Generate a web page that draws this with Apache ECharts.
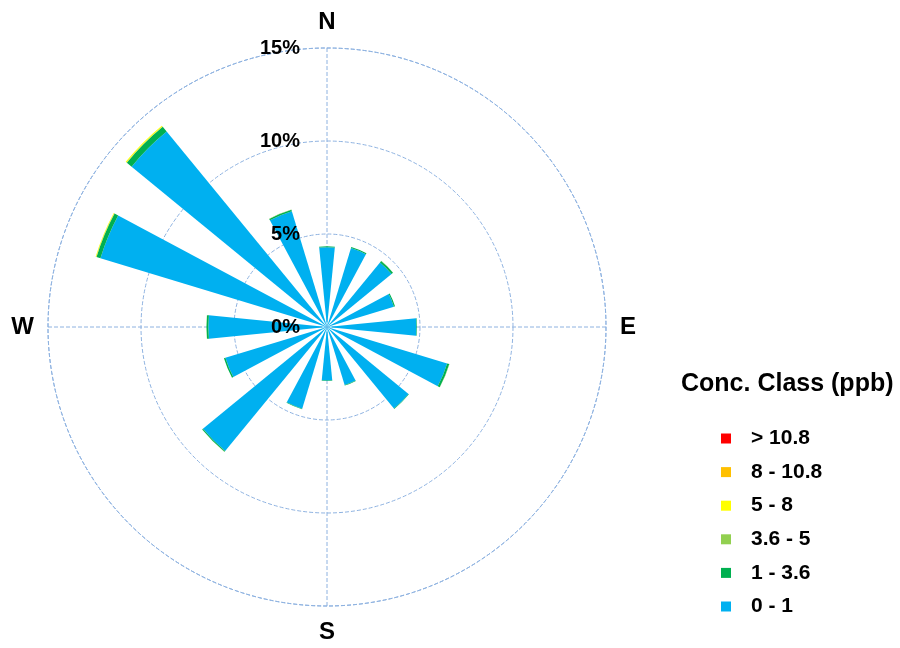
<!DOCTYPE html>
<html>
<head>
<meta charset="utf-8">
<script src="https://cdn.jsdelivr.net/npm/echarts@6/dist/echarts.min.js"></script>
<style>
  html, body { margin: 0; padding: 0; background: #fff; }
  #chart { width: 900px; height: 648px; }
</style>
</head>
<body>
<div id="chart"></div>
<script>
// Wind directions (16 sectors, clockwise from north)
const directions = ['N','NNE','NE','ENE','E','ESE','SE','SSE','S','SSW','SW','WSW','W','WNW','NW','NNW'];

// Frequency (%) per concentration class and direction
const class0to1    = [4.29, 4.44, 4.49, 3.76, 4.81, 6.75, 5.67, 3.26, 2.88, 4.59, 8.63, 5.71, 6.38, 12.73, 13.59, 6.51];
const class1to36   = [0.05, 0.06, 0.10, 0.06, 0.03, 0.12, 0.03, 0.03, 0.02, 0.03, 0.05, 0.08, 0.10, 0.22, 0.33, 0.08];
const class36to5   = [0, 0, 0.01, 0, 0, 0.01, 0, 0, 0, 0, 0.01, 0, 0.01, 0.02, 0.03, 0.01];
const class5to8    = [0, 0, 0, 0, 0, 0, 0, 0, 0, 0, 0, 0, 0, 0.03, 0.05, 0];
const class8to108  = [0, 0, 0, 0, 0, 0, 0, 0, 0, 0, 0, 0, 0, 0, 0, 0];
const classAbove108 = [0, 0, 0, 0, 0, 0, 0, 0, 0, 0, 0, 0, 0, 0, 0, 0];

// Class names (legend order: highest first)
const classNames = ['> 10.8', '8 - 10.8', '5 - 8', '3.6 - 5', '1 - 3.6', '0 - 1'];
const classColors = ['#ff0000', '#ffc000', '#ffff00', '#92d050', '#00b050', '#00b0f0'];

// Compass labels and radial ticks
const compassLabels = { 0: 'N', 90: 'E', 180: 'S', 270: 'W' };
const radiusTicks = [0, 5, 10, 15];

const chart = echarts.init(document.getElementById('chart'));

const stackData = [class0to1, class1to36, class36to5, class5to8, class8to108, classAbove108];
const stackNames = classNames.slice().reverse();
const stackColors = classColors.slice().reverse();

const gridColor = '#8eb2e0';
const center = [327, 327];
const radius = 279;
const fontFamily = 'Liberation Sans, Arial';

// Empty classes are skipped so that no zero-height sectors get drawn
const series = stackData.map((d, i) => ({
  type: 'bar',
  name: stackNames[i],
  coordinateSystem: 'polar',
  polarIndex: 0,
  stack: 'rose',
  data: d.map(v => (v > 0 ? v : '-')),
  barWidth: '50%',
  itemStyle: { color: stackColors[i] },
  z: 3
}));

const hiddenRadius = idx => ({
  polarIndex: idx, type: 'value', min: 0, max: 15,
  axisLine: { show: false }, axisTick: { show: false },
  axisLabel: { show: false }, splitLine: { show: false }
});

chart.setOption({
  animation: false,
  title: {
    text: 'Conc. Class (ppb)',
    left: 676,
    top: 367,
    textStyle: { fontFamily: fontFamily, fontWeight: 'bold', fontSize: 25, color: '#000' }
  },
  legend: {
    orient: 'vertical',
    left: 716,
    top: 423,
    data: classNames,
    selectedMode: false,
    icon: 'rect',
    itemWidth: 10,
    itemHeight: 10,
    itemGap: 12.6,
    textStyle: {
      fontFamily: fontFamily, fontWeight: 'bold', fontSize: 21, color: '#000',
      padding: [0, 0, 0, 15]
    }
  },
  polar: [
    { center: center, radius: radius },
    { center: center, radius: radius },
    { center: center, radius: radius }
  ],
  angleAxis: [
    {
      polarIndex: 0,
      type: 'category',
      data: directions,
      startAngle: 90 + 360 / directions.length / 2,
      clockwise: true,
      axisLine: { show: false },
      axisTick: { show: false },
      axisLabel: { show: false },
      splitLine: { show: false }
    },
    {
      polarIndex: 1,
      type: 'value',
      min: 0,
      max: 360,
      interval: 90,
      startAngle: 90,
      clockwise: true,
      axisLine: { show: true, lineStyle: { color: gridColor, type: 'dashed', width: 1 } },
      axisTick: { show: false },
      axisLabel: {
        show: true,
        margin: 14,
        formatter: v => (v === 360 ? '' : (compassLabels[v] || '')),
        fontFamily: fontFamily, fontWeight: 'bold', fontSize: 24, color: '#000'
      },
      splitLine: { show: true, lineStyle: { color: gridColor, type: 'dashed', width: 1 } }
    },
    {
      polarIndex: 2,
      type: 'value', min: 0, max: 360, startAngle: 90,
      axisLine: { show: false }, axisTick: { show: false },
      axisLabel: { show: false }, splitLine: { show: false }
    }
  ],
  radiusAxis: [
    hiddenRadius(0),
    {
      polarIndex: 1,
      type: 'value',
      min: 0,
      max: 15,
      interval: 5,
      axisLine: { show: false },
      axisTick: { show: false },
      axisLabel: { show: false },
      splitLine: { show: true, lineStyle: { color: gridColor, type: 'dashed', width: 1 } }
    },
    {
      // percentage labels drawn above the bars
      polarIndex: 2,
      type: 'value',
      min: 0,
      max: 15,
      interval: 5,
      z: 10,
      axisLine: { show: false },
      axisTick: { show: false },
      axisLabel: {
        show: true,
        margin: 27,
        formatter: v => (radiusTicks.indexOf(v) >= 0 ? v + '%' : ''),
        fontFamily: fontFamily, fontWeight: 'bold', fontSize: 20, color: '#000'
      },
      splitLine: { show: false }
    }
  ],
  series: series
});
</script>
</body>
</html>
